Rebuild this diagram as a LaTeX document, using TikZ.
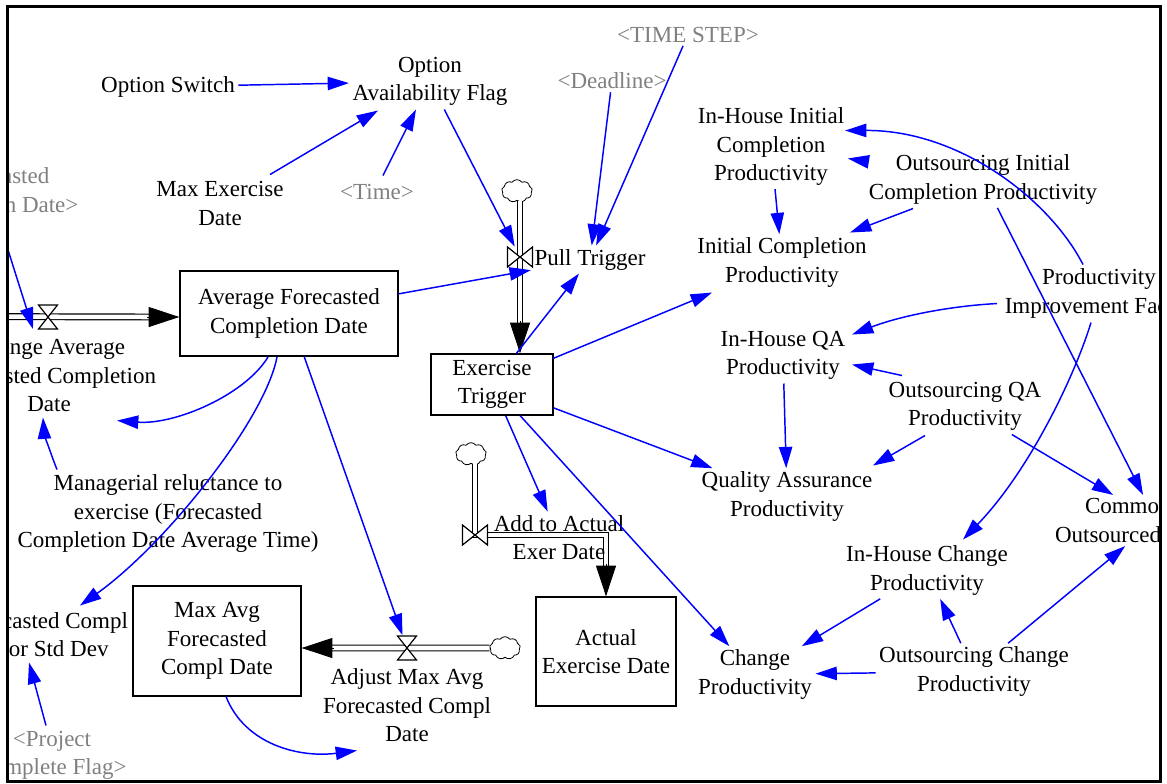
\documentclass[tikz,border=0pt]{standalone}
\usepackage{fontspec}
\setmainfont{Liberation Serif}
\usetikzlibrary{arrows.meta,calc,shapes.symbols}
\definecolor{linkblue}{RGB}{0,0,255}
\definecolor{shadowgray}{RGB}{128,128,128}

\begin{document}
\begin{tikzpicture}[x=0.75pt,y=-0.75pt,
  txt/.style={align=center, inner sep=2.5pt, font=\fontsize{17.25}{21.4}\selectfont},
  lbl/.style={txt, yshift=-1.9pt},
  ghost/.style={lbl, text=shadowgray},
  stock/.style={txt, draw, fill=white, line width=1pt, inner sep=0pt},
  valvenode/.style={inner sep=0pt},
  cloudsrc/.style={cloud, cloud puffs=9, cloud puff arc=110, aspect=1.35, draw, fill=white,
    line width=0.6pt, minimum width=23pt, minimum height=17pt, inner sep=0pt},
  pipe/.style={draw=black, double=white, line width=0.9pt, double distance=3.4pt},
  flowtip/.style={-{Triangle[length=23pt,width=15pt]}, line width=0.6pt},
  link/.style={draw=linkblue, line width=1.1pt, -{Triangle[length=16pt,width=10pt]}},
  valveh/.pic={\filldraw[fill=white, line width=0.9pt] (-9.5,-12) -- (9.5,-12) -- (-9.5,12) -- (9.5,12) -- cycle;},
  valvev/.pic={\filldraw[fill=white, line width=0.9pt] (-12.5,-10) -- (-12.5,10) -- (12.5,-10) -- (12.5,10) -- cycle;}
]
\useasboundingbox (0,0) rectangle (1167,783);

\begin{scope}
\clip (7,6) rectangle (1160,781);

% stocks
\node[stock, minimum width=163.5pt, minimum height=63.75pt] (afcd) at (289,313.5) {Average Forecasted\\Completion Date};
\node[stock, minimum width=126pt, minimum height=82.5pt] (mafcd) at (217,641) {Max Avg\\Forecasted\\Compl Date};
\node[stock, minimum width=91.5pt, minimum height=45.75pt] (et) at (492,384.5) {Exercise\\Trigger};
\node[stock, minimum width=105pt, minimum height=81.75pt] (aed) at (606,651.5) {Actual\\Exercise Date};

% valve positions
\node[valvenode, minimum width=14.25pt, minimum height=18pt] (chgv) at (48,317) {};
\node[valvenode, minimum width=14pt, minimum height=18.75pt] (adjv) at (407,648) {};
\node[valvenode, minimum width=18.75pt, minimum height=15pt] (ptv) at (520,257) {};
\node[valvenode, minimum width=18.75pt, minimum height=13.5pt] (aav) at (475,535) {};

% sources
\node[cloudsrc] (ptc) at (517,191) {};
\node[cloudsrc] (aac) at (471,454) {};
\node[cloudsrc] (adjc) at (505,648) {};

% flow pipes
\draw[pipe] (-40,316.5) -- ($(afcd.west|-chgv)+(-28,0)$);
\draw[flowtip] ($(afcd.west|-chgv)+(-32,0)$) -- (afcd.west|-chgv);

\draw[pipe] (ptc.south-|ptv) -- ($(et.north-|ptv)+(0,-28)$);
\draw[flowtip] ($(et.north-|ptv)+(0,-32)$) -- (et.north-|ptv);

\draw[pipe] (aac.south-|aav) -- (aav.center) -- (aav-|aed) -- ($(aed.north)+(0,-28)$);
\draw[flowtip] ($(aed.north)+(0,-32)$) -- (aed.north);

\draw[pipe] (adjc.west) -- ($(mafcd.east|-adjv)+(28,0)$);
\draw[flowtip] ($(mafcd.east|-adjv)+(32,0)$) -- (mafcd.east|-adjv);

\pic at (chgv) {valveh};
\pic at (adjv) {valveh};
\pic at (ptv) {valvev};
\pic at (aav) {valvev};

% variables
\node[lbl] (os) at (168,84) {Option Switch};
\node[lbl] (oaf) at (430,79) {Option\\Availability Flag};
\node[lbl] (med) at (220,201) {Max Exercise\\Date};
\node[ghost] (time) at (377,189) {<Time>};
\node[ghost] (deadline) at (612,78) {<Deadline>};
\node[ghost] (timestep) at (688,32) {<TIME STEP>};
\node[ghost] (fcd) at (-7,190) {<Forecasted\\Completion Date>};
\node[lbl] (chglbl) at (49,373) {Change Average\\Forecasted Completion\\Date};
\node[lbl] (mgr) at (168,511) {Managerial reluctance to\\exercise (Forecasted\\Completion Date Average Time)};
\node[lbl] (fcerr) at (44,632) {Forecasted Compl\\Error Std Dev};
\node[ghost] (pcf) at (52,753) {<Project\\Complete Flag>};
\node[lbl] (adjlbl) at (407,703) {Adjust Max Avg\\Forecasted Compl\\Date};
\node[lbl] (ptlbl) at (590,257) {Pull Trigger};
\node[lbl] (aalbl) at (559,535) {Add to Actual\\Exer Date};
\node[lbl] (cp) at (755,672) {Change\\Productivity};
\node[lbl] (ihicp) at (771,144) {In-House Initial\\Completion\\Productivity};
\node[lbl] (icp) at (782,260) {Initial Completion\\Productivity};
\node[lbl] (oicp) at (983,177) {Outsourcing Initial\\Completion Productivity};
\node[lbl] (pif) at (1099,291) {Productivity\\Improvement Factor};
\node[lbl] (ihqa) at (783,353) {In-House QA\\Productivity};
\node[lbl] (oqa) at (965,404) {Outsourcing QA\\Productivity};
\node[lbl] (qap) at (787,494) {Quality Assurance\\Productivity};
\node[lbl, align=left, text width=151.5pt] (cop) at (1156,518) {\hspace*{22.5pt}Common\\Outsourced};
\node[lbl] (ihcp) at (927,568) {In-House Change\\Productivity};
\node[lbl] (ocp) at (974,669) {Outsourcing Change\\Productivity};

% causal links
\draw[link] (os) -- (oaf);
\draw[link] ($(med)+(50,-29)$) -- ($(oaf)+(-52,29)$);
\draw[link] ($(time)+(6,-16)$) -- ($(oaf)+(-14,28)$);
\draw[link] (oaf) -- (ptv);
\draw[link] (deadline) -- (ptlbl);
\draw[link] (timestep) -- (ptlbl);
\draw[link] (afcd) -- (ptlbl);
\draw[link] (et) -- (ptlbl);
\draw[link] ($(et)+(61,-26)$) -- ($(icp)+(-70,30)$);
\draw[link] (et) -- (qap);
\draw[link] (et) -- (aalbl);
\draw[link] (et) -- (cp);
\draw[link] (afcd) -- (adjv);
\draw[link] ($(afcd)+(-21,43.5)$) .. controls (245,395) and (175,425) .. ($(chglbl)+(68,45)$);
\draw[link] ($(mgr)+(-111,-44)$) .. controls (50,452) and (44,432) .. ($(chglbl)+(-6,42)$);
\draw[link] ($(afcd)+(-12,43.5)$) .. controls (265,420) and (165,545) .. ($(fcerr)+(36,-29)$);
\draw[link] ($(pcf)+(-6,-30)$) -- ($(fcerr)+(-15,28)$);
\draw[link] ($(mafcd)+(9,55.5)$) .. controls (245,745) and (300,758) .. ($(adjlbl)+(-50,45)$);
\draw[link] ($(fcd)+(7,32)$) -- ($(chgv)+(-15,12)$);
\draw[link] (ihicp) -- (icp);
\draw[link] ($(oicp)+(-70,29)$) -- ($(icp)+(68,-30)$);
\draw[link] (oicp) -- (ihicp);
\draw[link] (oicp) -- (cop);
\draw[link] ($(pif)+(-16,-29)$) .. controls (1050,200) and (960,130) .. ($(ihicp)+(74,-16)$);
\draw[link] ($(pif)+(-102,10)$) .. controls (950,306) and (900,316) .. ($(ihqa)+(69,-21)$);
\draw[link] ($(pif)+(-8,29)$) .. controls (1075,375) and (1030,470) .. ($(ihcp)+(36,-31)$);
\draw[link] ($(oqa)+(-63,-31)$) -- ($(ihqa)+(69,9)$);
\draw[link] ($(oqa)+(-40,29)$) -- ($(qap)+(86,-31)$);
\draw[link] (oqa) -- (cop);
\draw[link] (ihqa) -- (qap);
\draw[link] (ihcp) -- (cp);
\draw[link] (ocp) -- (cp);
\draw[link] (ocp) -- (ihcp);
\draw[link] (ocp) -- (cop);
\end{scope}

% window frame
\draw[line width=2.25pt] (7,6) rectangle (1160,781);
\end{tikzpicture}
\end{document}
